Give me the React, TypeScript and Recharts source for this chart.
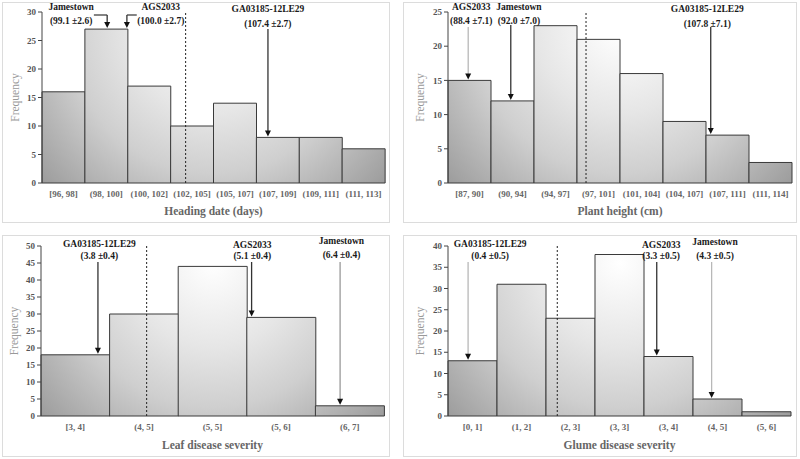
import React from 'react';
import { BarChart, Bar, XAxis, YAxis, ReferenceLine, ReferenceDot, Label } from 'recharts';

// ---- data ----
const HD_CATS = ['[96, 98]', '(98, 100]', '(100, 102]', '(102, 105]', '(105, 107]', '(107, 109]', '(109, 111]', '(111, 113]'];
const HD_FREQ = [16, 27, 17, 10, 14, 8, 8, 6];
const HD_TICKS = [0, 5, 10, 15, 20, 25, 30];
const HD_MEAN = 3.35;
const HD_NAMES = ['Jamestown', 'AGS2033', 'GA03185-12LE29'];
const HD_STATS = ['(99.1 ±2.6)', '(100.0 ±2.7)', '(107.4 ±2.7)'];
const HD_ARROW_X = [1.52, 1.98, 5.27];

const PH_CATS = ['[87, 90]', '(90, 94]', '(94, 97]', '(97, 101]', '(101, 104]', '(104, 107]', '(107, 111]', '(111, 114]'];
const PH_FREQ = [15, 12, 23, 21, 16, 9, 7, 3];
const PH_TICKS = [0, 5, 10, 15, 20, 25];
const PH_MEAN = 3.21;
const PH_NAMES = ['AGS2033', 'Jamestown', 'GA03185-12LE29'];
const PH_STATS = ['(88.4 ±7.1)', '(92.0 ±7.0)', '(107.8 ±7.1)'];
const PH_ARROW_X = [0.47, 1.46, 6.11];

const LD_CATS = ['[3, 4]', '(4, 5]', '(5, 5]', '(5, 6]', '(6, 7]'];
const LD_FREQ = [18, 30, 44, 29, 3];
const LD_TICKS = [0, 5, 10, 15, 20, 25, 30, 35, 40, 45, 50];
const LD_MEAN = 1.54;
const LD_NAMES = ['GA03185-12LE29', 'AGS2033', 'Jamestown'];
const LD_STATS = ['(3.8 ±0.4)', '(5.1 ±0.4)', '(6.4 ±0.4)'];
const LD_ARROW_X = [0.83, 3.07, 4.36];

const GD_CATS = ['[0, 1]', '(1, 2]', '(2, 3]', '(3, 3]', '(3, 4]', '(4, 5]', '(5, 6]'];
const GD_FREQ = [13, 31, 23, 38, 14, 4, 1];
const GD_TICKS = [0, 5, 10, 15, 20, 25, 30, 35, 40];
const GD_MEAN = 2.23;
const GD_NAMES = ['GA03185-12LE29', 'AGS2033', 'Jamestown'];
const GD_STATS = ['(0.4 ±0.5)', '(3.3 ±0.5)', '(4.3 ±0.5)'];
const GD_ARROW_X = [0.41, 4.26, 5.38];

// ---- styling ----
const FONT = '"Liberation Serif", "Times New Roman", serif';
const DARK = '#333333';
const LIGHT = '#b8b8b8';
const MID = '#999999';

type MarkLayout = { labelX: number; nameY: number; statY: number; top: number; elbowX?: number; tone: string };

const HD_LAYOUT: MarkLayout[] = [
  { labelX: 0.68, nameY: 4, statY: 18, top: 12, elbowX: 1.21, tone: DARK },
  { labelX: 2.77, nameY: 4, statY: 18, top: 12, elbowX: 2.21, tone: DARK },
  { labelX: 5.27, nameY: 6, statY: 21, top: 26, tone: DARK },
];
const PH_LAYOUT: MarkLayout[] = [
  { labelX: 0.54, nameY: 4, statY: 18, top: 24, tone: LIGHT },
  { labelX: 1.65, nameY: 4, statY: 18, top: 22, tone: DARK },
  { labelX: 6.03, nameY: 6, statY: 21, top: 24, tone: DARK },
];
const LD_LAYOUT: MarkLayout[] = [
  { labelX: 0.85, nameY: 8, statY: 20, top: 26, tone: DARK },
  { labelX: 3.08, nameY: 9, statY: 20, top: 26, tone: DARK },
  { labelX: 4.38, nameY: 5, statY: 19, top: 26, tone: MID },
];
const GD_LAYOUT: MarkLayout[] = [
  { labelX: 0.86, nameY: 8, statY: 20, top: 26, tone: LIGHT },
  { labelX: 4.35, nameY: 9, statY: 20, top: 26, tone: DARK },
  { labelX: 5.45, nameY: 6, statY: 20, top: 26, tone: LIGHT },
];

interface PanelProps {
  id: string;
  frame: { x: number; y: number; w: number; h: number };
  margin: { top: number; right: number; left: number; bottom: number };
  yAxisWidth: number;
  xAxisHeight: number;
  yLabelOffset: number;
  cats: string[];
  freq: number[];
  yTicks: number[];
  mean: number;
  names: string[];
  stats: string[];
  arrowX: number[];
  layout: MarkLayout[];
  xTitle: string;
}

const Panel: React.FC<PanelProps> = (p) => {
  const W = p.frame.w - 2;
  const H = p.frame.h - 2;
  const n = p.cats.length;
  const yMax = p.yTicks[p.yTicks.length - 1];
  // "mid" = bin centre on a 0..n bin-index scale (used for boundary ticks, mean line and arrows)
  const data = p.cats.map((c, i) => ({ cat: c, mid: i + 0.5, freq: p.freq[i] }));
  const bounds = Array.from({ length: n + 1 }, (_, i) => i);

  const plotLeft = p.margin.left + p.yAxisWidth;
  const plotW = W - plotLeft - p.margin.right;
  const plotH = H - p.margin.top - p.xAxisHeight;

  return (
    <div
      style={{
        position: 'absolute',
        left: p.frame.x,
        top: p.frame.y,
        width: W,
        height: H,
        border: '1px solid #dcdcdc',
        background: '#fff',
      }}
    >
      <BarChart width={W} height={H} data={data} margin={p.margin} barCategoryGap={0} barGap={0}>
        <defs>
          <radialGradient
            id={p.id}
            gradientUnits="userSpaceOnUse"
            cx={plotLeft + plotW / 2}
            cy={p.margin.top + plotH * 0.1}
            r={plotW * 0.7}
          >
            <stop offset="0" stopColor="#ffffff" />
            <stop offset="0.35" stopColor="#e6e6e6" />
            <stop offset="0.6" stopColor="#cfcfcf" />
            <stop offset="1" stopColor="#969696" />
          </radialGradient>
        </defs>
        <XAxis
          xAxisId="num"
          dataKey="mid"
          type="number"
          domain={[0, n]}
          ticks={bounds}
          allowDataOverflow
          height={0}
          tickSize={4}
          tickFormatter={() => ''}
          stroke="#444"
        />
        <XAxis
          xAxisId="cat"
          dataKey="cat"
          interval={0}
          height={p.xAxisHeight}
          axisLine={false}
          tickLine={false}
          tick={{ fill: '#666', fontSize: 9, fontWeight: 'bold', fontFamily: FONT }}
        >
          <Label
            value={p.xTitle}
            position="insideBottom"
            offset={7}
            style={{ fill: '#666', fontSize: 11.5, fontWeight: 'bold', fontFamily: FONT }}
          />
        </XAxis>
        <YAxis
          type="number"
          domain={[0, yMax]}
          ticks={p.yTicks}
          width={p.yAxisWidth}
          tickSize={4}
          stroke="#444"
          tick={{ fill: '#555', fontSize: 9, fontWeight: 'bold', fontFamily: FONT }}
        >
          <Label
            value="Frequency"
            angle={-90}
            position="insideLeft"
            offset={p.yLabelOffset}
            style={{ textAnchor: 'middle', fill: '#999', fontSize: 11.5, fontFamily: FONT }}
          />
        </YAxis>
        <Bar xAxisId="cat" dataKey="freq" fill={`url(#${p.id})`} stroke="#3a3a3a" strokeWidth={1} isAnimationActive={false} />
        <ReferenceLine xAxisId="num" x={p.mean} stroke="#222" strokeDasharray="2 2" />
        {p.names.map((name, i) => {
          const lay = p.layout[i];
          const ax = p.arrowX[i];
          const tip = p.freq[Math.floor(ax)];
          return (
            <React.Fragment key={name}>
              <ReferenceDot
                xAxisId="num"
                x={lay.labelX}
                y={yMax}
                r={0}
                ifOverflow="visible"
                shape={(s: any) => (
                  <g fontFamily={FONT} fontWeight="bold" fontSize={9.5} fill="#1a1a1a" textAnchor="middle">
                    <text x={s.cx} y={lay.nameY} dominantBaseline="central">{name}</text>
                    <text x={s.cx} y={lay.statY} dominantBaseline="central">{p.stats[i]}</text>
                  </g>
                )}
              />
              {lay.elbowX !== undefined && (
                <ReferenceLine
                  xAxisId="num"
                  ifOverflow="visible"
                  segment={[{ x: lay.elbowX, y: yMax }, { x: ax, y: yMax }]}
                  shape={(s: any) => (
                    <line x1={s.x1} x2={s.x2} y1={lay.top} y2={lay.top} stroke={lay.tone} strokeWidth={1.2} />
                  )}
                />
              )}
              <ReferenceLine
                xAxisId="num"
                ifOverflow="visible"
                segment={[{ x: ax, y: yMax }, { x: ax, y: tip }]}
                shape={(s: any) => {
                  const x = s.x1;
                  const end = Math.max(s.y1, s.y2) - 1;
                  return (
                    <g>
                      <line x1={x} x2={x} y1={lay.top} y2={end - 5} stroke={lay.tone} strokeWidth={1.3} />
                      <path d={`M${x - 3},${end - 6} L${x + 3},${end - 6} L${x},${end} Z`} fill="#111" />
                    </g>
                  );
                }}
              />
            </React.Fragment>
          );
        })}
      </BarChart>
    </div>
  );
};

export default function App() {
  return (
    <div style={{ position: 'absolute', left: 0, top: 0, width: 800, height: 459, background: '#fff' }}>
      <Panel
        id="gHD"
        frame={{ x: 2, y: 2, w: 388, h: 221 }}
        margin={{ top: 9, right: 4, left: 0, bottom: 0 }}
        yAxisWidth={39}
        xAxisHeight={39}
        yLabelOffset={12}
        cats={HD_CATS}
        freq={HD_FREQ}
        yTicks={HD_TICKS}
        mean={HD_MEAN}
        names={HD_NAMES}
        stats={HD_STATS}
        arrowX={HD_ARROW_X}
        layout={HD_LAYOUT}
        xTitle="Heading date (days)"
      />
      <Panel
        id="gPH"
        frame={{ x: 403, y: 2, w: 394, h: 221 }}
        margin={{ top: 9, right: 4, left: 0, bottom: 0 }}
        yAxisWidth={44}
        xAxisHeight={39}
        yLabelOffset={16}
        cats={PH_CATS}
        freq={PH_FREQ}
        yTicks={PH_TICKS}
        mean={PH_MEAN}
        names={PH_NAMES}
        stats={PH_STATS}
        arrowX={PH_ARROW_X}
        layout={PH_LAYOUT}
        xTitle="Plant height (cm)"
      />
      <Panel
        id="gLD"
        frame={{ x: 2, y: 235, w: 388, h: 222 }}
        margin={{ top: 10, right: 5, left: 0, bottom: 0 }}
        yAxisWidth={38}
        xAxisHeight={40}
        yLabelOffset={11}
        cats={LD_CATS}
        freq={LD_FREQ}
        yTicks={LD_TICKS}
        mean={LD_MEAN}
        names={LD_NAMES}
        stats={LD_STATS}
        arrowX={LD_ARROW_X}
        layout={LD_LAYOUT}
        xTitle="Leaf disease severity"
      />
      <Panel
        id="gGD"
        frame={{ x: 403, y: 235, w: 394, h: 222 }}
        margin={{ top: 10, right: 5, left: 0, bottom: 0 }}
        yAxisWidth={44}
        xAxisHeight={40}
        yLabelOffset={16}
        cats={GD_CATS}
        freq={GD_FREQ}
        yTicks={GD_TICKS}
        mean={GD_MEAN}
        names={GD_NAMES}
        stats={GD_STATS}
        arrowX={GD_ARROW_X}
        layout={GD_LAYOUT}
        xTitle="Glume disease severity"
      />
    </div>
  );
}
